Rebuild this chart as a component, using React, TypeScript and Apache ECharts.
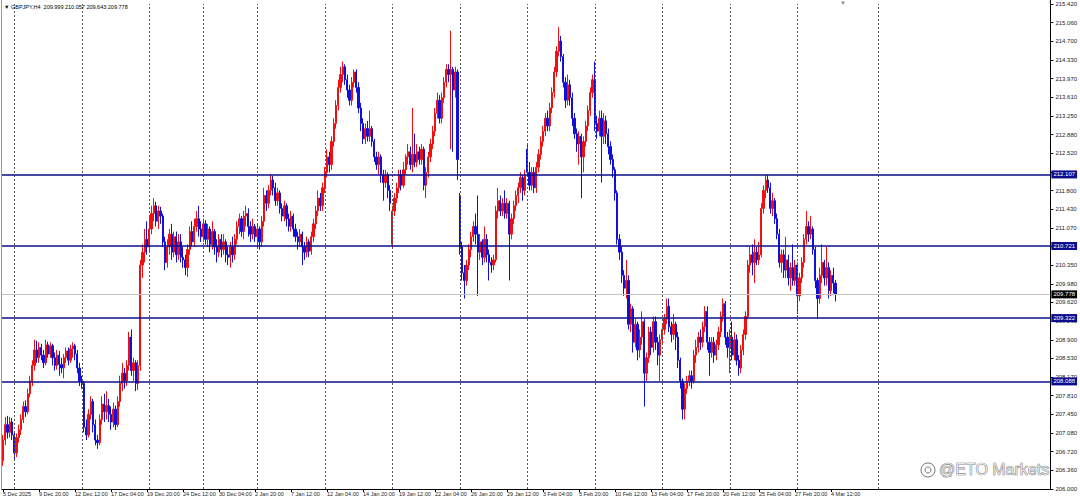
import React, { useEffect, useRef } from "react";
import * as echarts from "echarts";

// ---- header ----
const symbolName = "GBPJPY,H4";
const lastQuote = ["209.999", "210.057", "209.643", "209.778"];

// ---- candles: [open, close, low, high], H4 bars from 5 Dec 2025 04:00 ----
const weekDec05 = [
  [206.55, 206.95, 206.45, 207.05], [206.95, 207.25, 206.85, 207.4], [207.25, 207.1, 206.98, 207.42],
  [207.1, 207.3, 207.0, 207.4], [207.3, 207.05, 206.95, 207.38],
];
const weekDec08 = [
  [207.05, 206.7, 206.55, 207.1], [206.7, 207.0, 206.62, 207.08], [207.0, 207.15, 206.9, 207.25],
  [207.15, 207.35, 207.05, 207.45], [207.35, 207.6, 207.28, 207.7], [207.6, 207.5, 207.4, 207.72],
  [207.5, 207.85, 207.45, 207.95], [207.85, 208.1, 207.78, 208.2], [208.1, 208.4, 208.0, 208.5],
  [208.4, 208.7, 208.3, 208.9], [208.7, 208.55, 208.45, 208.88], [208.55, 208.75, 208.45, 208.85],
  [208.75, 208.6, 208.5, 208.82], [208.6, 208.45, 208.35, 208.7], [208.45, 208.8, 208.4, 208.9],
  [208.8, 208.62, 208.55, 208.86], [208.62, 208.78, 208.55, 208.85], [208.78, 208.55, 208.4, 208.82],
  [208.55, 208.4, 208.3, 208.65], [208.4, 208.6, 208.32, 208.7], [208.6, 208.42, 208.2, 208.68],
  [208.42, 208.35, 208.25, 208.55], [208.35, 208.55, 208.15, 208.62], [208.55, 208.68, 208.45, 208.75],
  [208.68, 208.5, 208.4, 208.75], [208.5, 208.72, 208.45, 208.8], [208.72, 208.78, 208.55, 208.85],
  [208.78, 208.62, 208.5, 208.82], [208.62, 208.35, 208.25, 208.7], [208.35, 208.1, 208.0, 208.45],
];
const weekDec15 = [
  [208.1, 208.05, 207.95, 208.2], [208.05, 207.2, 207.1, 208.1], [207.2, 207.05, 206.95, 207.35],
  [207.05, 207.45, 207.0, 207.55], [207.45, 207.7, 207.35, 207.8], [207.7, 207.25, 207.1, 207.75],
  [207.25, 206.95, 206.85, 207.35], [206.95, 206.9, 206.78, 207.05], [206.9, 207.35, 206.85, 207.45],
  [207.35, 207.65, 207.25, 207.8], [207.65, 207.5, 207.3, 207.85], [207.5, 207.62, 207.35, 207.9],
  [207.62, 207.45, 207.3, 207.75], [207.45, 207.3, 207.15, 207.6], [207.3, 207.55, 207.2, 207.68],
  [207.55, 207.25, 207.15, 207.62], [207.25, 207.7, 207.2, 207.8], [207.7, 208.05, 207.6, 208.2],
  [208.05, 208.25, 207.9, 208.45], [208.25, 208.1, 207.95, 208.35], [208.1, 208.4, 208.0, 208.5],
  [208.4, 208.95, 208.3, 209.05], [208.95, 208.3, 208.2, 209.1], [208.3, 208.45, 208.1, 208.55],
  [208.45, 208.05, 207.9, 208.5], [208.05, 208.4, 207.92, 208.5], [208.4, 210.35, 208.3, 210.45],
  [210.35, 210.6, 210.1, 210.75], [210.6, 210.85, 210.4, 211.05], [210.85, 210.7, 210.55, 211.2],
];
const weekDec22 = [
  [210.7, 211.05, 210.6, 211.3], [211.05, 211.35, 210.95, 211.5], [211.35, 211.5, 211.2, 211.65],
  [211.5, 211.2, 211.1, 211.58], [211.2, 211.4, 211.05, 211.5], [211.4, 211.3, 211.15, 211.48],
  [211.3, 210.8, 210.7, 211.35], [210.8, 210.4, 210.25, 210.9], [210.4, 210.7, 210.3, 210.85],
  [210.7, 210.95, 210.55, 211.05], [210.95, 210.6, 210.45, 211.15], [210.6, 210.9, 210.5, 211.0],
  [210.9, 210.55, 210.4, 211.0], [210.55, 210.8, 210.45, 210.95], [210.8, 210.5, 210.4, 210.95],
  [210.5, 210.45, 210.3, 210.7], [210.45, 210.3, 210.15, 210.55], [210.3, 210.65, 210.12, 210.75],
  [210.65, 211.0, 210.55, 211.1], [211.0, 210.8, 210.7, 211.2], [210.8, 211.1, 210.7, 211.25],
  [211.1, 211.25, 211.0, 211.4], [211.25, 211.05, 210.9, 211.5], [211.05, 210.9, 210.8, 211.2],
];
const weekDec29 = [
  [210.9, 211.15, 210.8, 211.25], [211.15, 210.85, 210.75, 211.22], [210.85, 211.05, 210.7, 211.15],
  [211.05, 210.75, 210.6, 211.1], [210.75, 211.0, 210.65, 211.2], [211.0, 210.7, 210.55, 211.05],
  [210.7, 210.6, 210.4, 210.85], [210.6, 210.85, 210.5, 210.95], [210.85, 210.65, 210.5, 210.95],
  [210.65, 210.8, 210.55, 210.95], [210.8, 210.55, 210.4, 210.85], [210.55, 210.5, 210.35, 210.7],
  [210.5, 210.7, 210.3, 210.8], [210.7, 210.55, 210.4, 210.9], [210.55, 210.85, 210.45, 210.95],
  [210.85, 211.1, 210.75, 211.2], [211.1, 211.25, 210.95, 211.35], [211.25, 211.0, 210.9, 211.3],
  [211.0, 211.3, 210.85, 211.4], [211.3, 211.35, 211.1, 211.5], [211.35, 211.1, 210.9, 211.45],
  [211.1, 210.95, 210.8, 211.2], [210.95, 211.1, 210.85, 211.25], [211.1, 210.9, 210.8, 211.15],
];
const weekJan05 = [
  [210.9, 211.05, 210.7, 211.15], [211.05, 210.8, 210.65, 211.1], [210.8, 211.2, 210.7, 211.3],
  [211.2, 211.7, 211.1, 211.85], [211.7, 211.55, 211.4, 211.8], [211.55, 211.8, 211.45, 211.9],
  [211.8, 212.0, 211.7, 212.12], [212.0, 211.85, 211.7, 212.08], [211.85, 211.6, 211.5, 211.95],
  [211.6, 211.75, 211.5, 211.85], [211.75, 211.45, 211.35, 211.8], [211.45, 211.3, 211.2, 211.55],
  [211.3, 211.5, 211.2, 211.6], [211.5, 211.25, 211.1, 211.55], [211.25, 211.1, 211.0, 211.35],
  [211.1, 211.3, 211.0, 211.4], [211.3, 211.05, 210.9, 211.35], [211.05, 210.9, 210.8, 211.15],
  [210.9, 210.8, 210.65, 211.0], [210.8, 210.95, 210.7, 211.05], [210.95, 210.7, 210.35, 211.0],
  [210.7, 210.6, 210.45, 210.8], [210.6, 210.8, 210.5, 210.9], [210.8, 210.62, 210.5, 210.85],
  [210.62, 210.9, 210.55, 211.0], [210.9, 211.15, 210.8, 211.25], [211.15, 211.4, 211.05, 211.5],
  [211.4, 211.65, 211.3, 211.8], [211.65, 211.5, 211.4, 211.75], [211.5, 211.85, 211.4, 211.95],
];
const weekJan12 = [
  [211.85, 212.15, 211.75, 212.25], [212.15, 212.45, 212.05, 212.6], [212.45, 212.3, 212.15, 212.55],
  [212.3, 212.75, 212.2, 212.85], [212.75, 213.1, 212.65, 213.2], [213.1, 213.45, 213.0, 213.55],
  [213.45, 213.8, 213.35, 213.95], [213.8, 214.05, 213.7, 214.2], [214.05, 214.2, 213.9, 214.3],
  [214.2, 213.95, 213.85, 214.25], [213.95, 213.75, 213.6, 214.05], [213.75, 213.55, 213.45, 213.85],
  [213.55, 213.9, 213.45, 214.0], [213.9, 214.1, 213.8, 214.15], [214.1, 213.8, 213.7, 214.15],
  [213.8, 213.4, 213.3, 213.9], [213.4, 213.1, 212.95, 213.5], [213.1, 212.8, 212.7, 213.2],
  [212.8, 213.0, 212.7, 213.1], [213.0, 212.85, 212.75, 213.15], [212.85, 213.0, 212.75, 213.35],
  [213.0, 212.75, 212.65, 213.05], [212.75, 212.45, 212.35, 212.8], [212.45, 212.3, 212.2, 212.55],
  [212.3, 212.45, 212.1, 212.55], [212.45, 212.1, 211.95, 212.5], [212.1, 211.95, 211.6, 212.2],
  [211.95, 212.1, 211.85, 212.2], [212.1, 211.8, 211.65, 212.15], [211.8, 211.55, 211.4, 211.9],
];
const weekJan19 = [
  [210.75, 211.4, 210.7, 211.5], [211.4, 211.65, 211.3, 211.75], [211.65, 211.85, 211.55, 211.95],
  [211.85, 212.1, 211.75, 212.2], [212.1, 211.9, 211.8, 212.2], [211.9, 212.2, 211.85, 212.35],
  [212.2, 212.45, 212.1, 212.5], [212.45, 212.55, 212.3, 212.7], [212.55, 212.3, 212.2, 212.65],
  [212.3, 212.5, 212.15, 213.4], [212.5, 212.35, 212.25, 212.9], [212.35, 212.55, 212.25, 212.7],
  [212.55, 212.4, 212.3, 212.65], [212.4, 212.6, 212.3, 212.7], [212.6, 211.9, 211.8, 212.65],
  [211.9, 212.15, 211.65, 212.25], [212.15, 212.45, 212.05, 212.55], [212.45, 212.7, 212.35, 212.8],
  [212.7, 212.95, 212.6, 213.05], [212.95, 213.3, 212.85, 213.4], [213.3, 213.55, 213.2, 213.7],
  [213.55, 213.2, 213.1, 213.65], [213.2, 213.6, 213.1, 213.7], [213.6, 213.9, 213.5, 214.0],
  [213.9, 214.15, 213.8, 214.25], [214.15, 214.05, 213.9, 214.25], [214.05, 214.15, 212.6, 214.9],
  [214.15, 213.75, 212.55, 214.2], [213.75, 214.1, 213.6, 214.2], [214.1, 212.4, 212.0, 214.15],
];
const weekJan26 = [
  [211.7, 210.7, 210.55, 211.75], [210.7, 210.2, 210.05, 210.8], [210.2, 210.05, 209.7, 210.35],
  [210.05, 210.35, 209.95, 210.45], [210.35, 210.65, 210.25, 210.75], [210.65, 210.9, 210.5, 211.0],
  [210.9, 211.1, 210.8, 211.2], [211.1, 210.95, 210.75, 211.35], [210.95, 210.6, 209.75, 211.7],
  [210.6, 210.8, 210.45, 210.95], [210.8, 210.5, 210.35, 210.85], [210.5, 210.85, 210.4, 211.1],
  [210.85, 210.55, 210.4, 210.95], [210.55, 210.4, 210.05, 210.65], [210.4, 210.35, 210.2, 210.5],
  [210.35, 210.45, 210.25, 210.55], [210.45, 211.4, 210.4, 211.5], [211.4, 211.6, 211.25, 211.85],
  [211.6, 211.4, 211.3, 211.7], [211.4, 211.55, 211.3, 211.65], [211.55, 211.35, 211.25, 211.8],
  [211.35, 211.55, 211.25, 211.65], [211.55, 210.95, 210.05, 211.6], [210.95, 211.25, 210.85, 211.35],
  [211.25, 211.5, 211.15, 211.6], [211.5, 211.7, 211.4, 211.8], [211.7, 211.85, 211.55, 211.95],
  [211.85, 212.05, 211.75, 212.15], [212.05, 211.8, 211.6, 212.1], [211.8, 212.1, 211.7, 212.2],
];
const weekFeb02 = [
  [212.6, 212.15, 212.1, 212.7], [212.15, 211.9, 211.8, 212.35], [211.9, 212.15, 211.8, 212.25],
  [212.15, 211.85, 211.75, 212.25], [211.85, 212.25, 211.75, 212.35], [212.25, 212.5, 212.15, 212.6],
  [212.5, 212.75, 212.4, 212.85], [212.75, 212.95, 212.65, 213.05], [212.95, 213.2, 212.85, 213.3],
  [213.2, 213.05, 212.95, 213.35], [213.05, 213.4, 212.95, 213.5], [213.4, 213.7, 213.3, 213.8],
  [213.7, 214.1, 213.6, 214.2], [214.1, 214.5, 214.0, 214.6], [214.5, 214.7, 214.4, 214.97],
  [214.7, 214.4, 214.3, 214.8], [214.4, 213.9, 213.8, 214.45], [213.9, 213.55, 213.4, 214.0],
  [213.55, 213.85, 213.45, 214.05], [213.85, 213.6, 213.45, 213.95], [213.6, 213.2, 213.05, 213.7],
  [213.2, 212.9, 212.8, 213.3], [212.9, 212.7, 212.55, 213.0], [212.7, 212.85, 212.3, 212.95],
  [212.85, 212.45, 211.65, 212.9], [212.45, 212.75, 212.15, 212.85], [212.75, 213.05, 212.65, 213.15],
  [213.05, 213.35, 212.95, 213.45], [213.35, 213.7, 213.25, 213.8], [213.7, 213.95, 213.6, 214.05],
];
const weekFeb09 = [
  [213.95, 213.1, 212.95, 214.3], [213.1, 212.95, 212.8, 213.25], [212.95, 213.2, 212.85, 213.35],
  [213.2, 212.85, 211.95, 213.35], [212.85, 213.15, 212.7, 213.3], [213.15, 212.9, 212.7, 213.25],
  [212.9, 212.65, 212.5, 213.0], [212.65, 212.4, 212.3, 212.75], [212.4, 212.2, 212.05, 212.5],
  [212.2, 211.75, 211.6, 212.25], [211.75, 210.85, 210.75, 211.8], [210.85, 210.6, 210.45, 210.95],
  [210.6, 210.15, 210.0, 210.7], [210.15, 209.9, 209.75, 210.25], [209.9, 210.05, 209.7, 210.45],
  [210.05, 209.2, 209.1, 210.15], [209.2, 209.5, 209.05, 209.6], [209.5, 208.85, 208.65, 209.55],
  [208.85, 209.2, 208.75, 209.3], [209.2, 208.7, 208.5, 209.25], [208.7, 208.95, 208.55, 209.1],
  [208.95, 209.25, 208.8, 209.45], [209.25, 208.25, 207.6, 209.3], [208.25, 208.55, 208.1, 208.65],
  [208.55, 209.05, 208.45, 209.15], [209.05, 208.75, 208.6, 209.15], [208.75, 209.25, 208.65, 209.35],
  [209.25, 208.85, 208.7, 209.35], [208.85, 208.6, 208.4, 208.95], [208.6, 208.9, 208.1, 209.0],
];
const weekFeb16 = [
  [208.9, 209.1, 208.8, 209.2], [209.1, 209.3, 209.0, 209.4], [209.3, 209.55, 209.2, 209.7],
  [209.55, 209.15, 209.05, 209.7], [209.15, 209.0, 208.85, 209.25], [209.0, 209.2, 208.9, 209.4],
  [209.2, 208.95, 208.7, 209.25], [208.95, 208.5, 208.35, 209.05], [208.5, 208.1, 207.95, 208.55],
  [208.1, 207.55, 207.35, 208.15], [207.55, 207.95, 207.35, 208.05], [207.95, 208.1, 207.85, 208.2],
  [208.1, 208.2, 208.0, 208.3], [208.2, 208.1, 207.95, 208.3], [208.1, 208.6, 208.05, 208.7],
  [208.6, 208.75, 208.45, 208.9], [208.75, 208.95, 208.65, 209.05], [208.95, 208.85, 208.7, 209.1],
  [208.85, 209.15, 208.75, 209.25], [209.15, 209.45, 209.05, 209.55], [209.45, 208.85, 208.7, 209.55],
  [208.85, 208.65, 208.2, 208.95], [208.65, 208.85, 208.55, 208.95], [208.85, 208.6, 208.45, 208.95],
  [208.6, 208.8, 208.5, 208.9], [208.8, 209.05, 208.7, 209.15], [209.05, 209.35, 208.95, 209.45],
  [209.35, 209.6, 209.25, 209.7], [209.6, 208.95, 208.8, 209.65], [208.95, 208.75, 208.55, 209.05],
];
const weekFeb23 = [
  [208.75, 208.95, 208.25, 209.1], [208.95, 208.6, 208.5, 209.25], [208.6, 208.9, 208.5, 209.05],
  [208.9, 208.5, 208.4, 209.0], [208.5, 208.35, 208.2, 208.6], [208.35, 208.7, 208.25, 208.8],
  [208.7, 209.0, 208.6, 209.1], [209.0, 209.35, 208.9, 209.45], [209.35, 210.35, 209.3, 210.45],
  [210.35, 210.55, 210.2, 210.7], [210.55, 210.4, 210.15, 210.75], [210.4, 210.6, 210.0, 210.85],
  [210.6, 210.45, 210.35, 210.7], [210.45, 210.55, 210.35, 210.8], [210.55, 211.45, 210.5, 211.55],
  [211.45, 211.8, 211.35, 211.9], [211.8, 212.0, 211.65, 212.1], [212.0, 211.85, 211.75, 212.1],
  [211.85, 211.45, 211.35, 211.95], [211.45, 211.6, 211.3, 211.75], [211.6, 211.25, 211.15, 211.65],
  [211.25, 210.95, 210.85, 211.35], [210.95, 210.4, 210.3, 211.05], [210.4, 210.55, 210.2, 210.65],
  [210.55, 210.25, 210.1, 210.65], [210.25, 210.45, 210.1, 210.9], [210.45, 210.1, 209.95, 210.55],
  [210.1, 210.3, 209.85, 210.4], [210.3, 210.05, 209.95, 210.75], [210.05, 210.35, 209.95, 210.45],
];
const weekMar02 = [
  [210.35, 209.75, 209.4, 210.4], [209.75, 210.1, 209.65, 210.2], [210.1, 210.4, 210.0, 210.5],
  [210.4, 210.85, 210.3, 210.95], [210.85, 211.1, 210.75, 211.4], [211.1, 210.95, 210.8, 211.2],
  [210.95, 211.05, 210.85, 211.3], [211.05, 210.65, 210.55, 211.1], [210.65, 210.05, 209.9, 210.7],
  [210.05, 209.7, 209.3, 210.1], [209.7, 210.15, 209.6, 210.3], [210.15, 210.4, 210.0, 210.75],
  [210.4, 210.1, 209.95, 210.45], [210.1, 210.3, 209.95, 210.7], [210.3, 209.85, 209.7, 210.4],
  [209.85, 210.15, 209.75, 210.25], [210.15, 209.999, 209.8, 210.3], [209.999, 209.778, 209.643, 210.057],
];

// ---- time axis ----
const xTickLabels = [
  "5 Dec 2025", "9 Dec 20:00", "12 Dec 12:00", "17 Dec 04:00", "19 Dec 20:00", "24 Dec 12:00",
  "30 Dec 04:00", "2 Jan 20:00", "7 Jan 12:00", "12 Jan 04:00", "14 Jan 20:00", "19 Jan 12:00",
  "22 Jan 04:00", "26 Jan 20:00", "29 Jan 12:00", "3 Feb 04:00", "5 Feb 20:00", "10 Feb 12:00",
  "13 Feb 04:00", "17 Feb 20:00", "20 Feb 12:00", "25 Feb 04:00", "27 Feb 20:00", "4 Mar 12:00",
];
const xTickStep = 16; // bars between time labels
const weekStartBars = [5, 35, 65, 89, 113, 143, 173, 203, 233, 263, 293, 323, 353, 389];
const totalSlots = 466; // bars that fit in the window incl. right shift space

// ---- price axis ----
const yLabels = [
  "206.000", "206.360", "206.720", "207.080", "207.450", "207.810", "208.170", "208.530", "208.900",
  "209.260", "209.620", "209.980", "210.350", "210.710", "211.070", "211.430", "211.800", "212.160",
  "212.520", "212.880", "213.250", "213.610", "213.970", "214.330", "214.700", "215.060", "215.420",
];
// tick labels that are hidden behind the level price boxes in the original
const coveredYLabels = ["212.160", "210.710"];
const yMin = 206.0;
const yMax = 215.42;

// ---- horizontal levels ----
const levelLines = [212.107, 210.721, 209.322, 208.088];
const bidPrice = 209.778;

const candles = [
  ...weekDec05, ...weekDec08, ...weekDec15, ...weekDec22, ...weekDec29, ...weekJan05, ...weekJan12,
  ...weekJan19, ...weekJan26, ...weekFeb02, ...weekFeb09, ...weekFeb16, ...weekFeb23, ...weekMar02,
];

const FONT = "'Liberation Sans', Arial, sans-serif";
const RED = "#f01010";
const BLUE = "#1010d8";
const NAVY = "#0c0c8e";

export default function App() {
  const ref = useRef<HTMLDivElement>(null);
  useEffect(() => {
    if (!ref.current) return;
    const chart = echarts.init(ref.current, undefined, { renderer: "svg" });
    const slots = Array.from({ length: totalSlots }, (_, i) => String(i));
    const isLabel = (i: number) => i % xTickStep === 0 && i / xTickStep < xTickLabels.length;
    const option: any = {
      animation: false,
      backgroundColor: "#ffffff",
      textStyle: { fontFamily: FONT },
      grid: { left: 1.875, top: 4, width: 1048.5, height: 485, containLabel: false, outerBoundsMode: "none" },
      xAxis: {
        type: "category",
        data: slots,
        boundaryGap: true,
        axisLine: { show: true, lineStyle: { color: "#000", width: 1 } },
        axisTick: { show: true, alignWithLabel: true, length: 3, interval: (i: number) => isLabel(i), lineStyle: { color: "#000" } },
        axisLabel: {
          interval: (i: number) => isLabel(i),
          formatter: (_v: string, i: number) => xTickLabels[i / xTickStep] ?? "",
          align: "left",
          fontSize: 5.5,
          color: "#222",
          margin: 2,
          fontFamily: FONT,
        },
        splitLine: { show: false },
      },
      yAxis: [
        { type: "value", min: yMin, max: yMax, show: false },
        {
          type: "value",
          position: "right",
          min: 0,
          max: yLabels.length - 1,
          interval: 1,
          axisLine: { show: true, lineStyle: { color: "#000", width: 1 } },
          axisTick: { show: true, length: 3, lineStyle: { color: "#000" } },
          axisLabel: {
            formatter: (v: number) => {
              const s = yLabels[Math.round(v)] ?? "";
              return coveredYLabels.includes(s) ? "" : s;
            },
            fontSize: 6, color: "#222", margin: 5, fontFamily: FONT,
          },
          splitLine: { show: false },
        },
      ],
      series: [
        {
          type: "line",
          data: slots.map(() => "-"),
          silent: true,
          z: 1,
          showSymbol: false,
          markLine: {
            silent: true,
            symbol: "none",
            label: { show: false },
            lineStyle: { color: "#555", type: [2, 2], width: 1 },
            data: weekStartBars.map((b) => ({ xAxis: b })),
          },
        },
        {
          type: "candlestick",
          data: candles,
          barWidth: 1.7,
          z: 2,
          itemStyle: { color: RED, color0: BLUE, borderColor: RED, borderColor0: BLUE, borderWidth: 1 },
          markLine: {
            silent: true,
            symbol: "none",
            data: [
              {
                yAxis: bidPrice,
                lineStyle: { color: "#c4c4c4", width: 1, type: "solid" },
                label: {
                  show: true, position: "end", distance: 1, formatter: bidPrice.toFixed(3),
                  backgroundColor: "#000", color: "#fff", fontSize: 6, padding: [1, 2, 1, 2], fontFamily: FONT,
                },
              },
              ...levelLines.map((v) => ({
                yAxis: v,
                lineStyle: { color: NAVY, width: 1.5, type: "solid" },
                label: {
                  show: true, position: "end", distance: 1, formatter: v.toFixed(3),
                  backgroundColor: NAVY, color: "#fff", fontSize: 6, padding: [1, 2, 1, 2], fontFamily: FONT,
                },
              })),
            ],
          },
        },
      ],
      graphic: [
        { type: "line", shape: { x1: 1.5, y1: 0, x2: 1.5, y2: 489 }, style: { stroke: "#9a9a9a", lineWidth: 1 }, z: 10 },
        { type: "line", shape: { x1: 1050.4, y1: 0, x2: 1050.4, y2: 4 }, style: { stroke: "#000", lineWidth: 1 }, z: 10 },
        {
          type: "text", x: 4, y: 4, z: 20,
          style: { text: "\u25BC " + symbolName + "  " + lastQuote.join(" "), fontSize: 5.5, fill: "#000", fontFamily: FONT },
        },
        { type: "text", x: 840, y: 0, z: 20, style: { text: "\u25BC", fontSize: 6, fill: "#8a8a8a", fontFamily: FONT } },
        { type: "circle", shape: { cx: 928, cy: 470, r: 7 }, style: { fill: "rgba(255,255,255,0.4)", stroke: "#777", lineWidth: 1 }, z: 30 },
        { type: "circle", shape: { cx: 928, cy: 470, r: 3 }, style: { fill: "none", stroke: "#777", lineWidth: 1 }, z: 30 },
        {
          type: "text", x: 939, y: 461, z: 30,
          style: { text: "@ETO Markets", fontSize: 16, fill: "rgba(255,255,255,0.55)", stroke: "#6f6f6f", lineWidth: 0.7, fontFamily: FONT },
        },
      ],
    };
    chart.setOption(option);
    return () => chart.dispose();
  }, []);
  return <div ref={ref} style={{ position: "fixed", left: 0, top: 0, width: 1080, height: 502 }} />;
}
